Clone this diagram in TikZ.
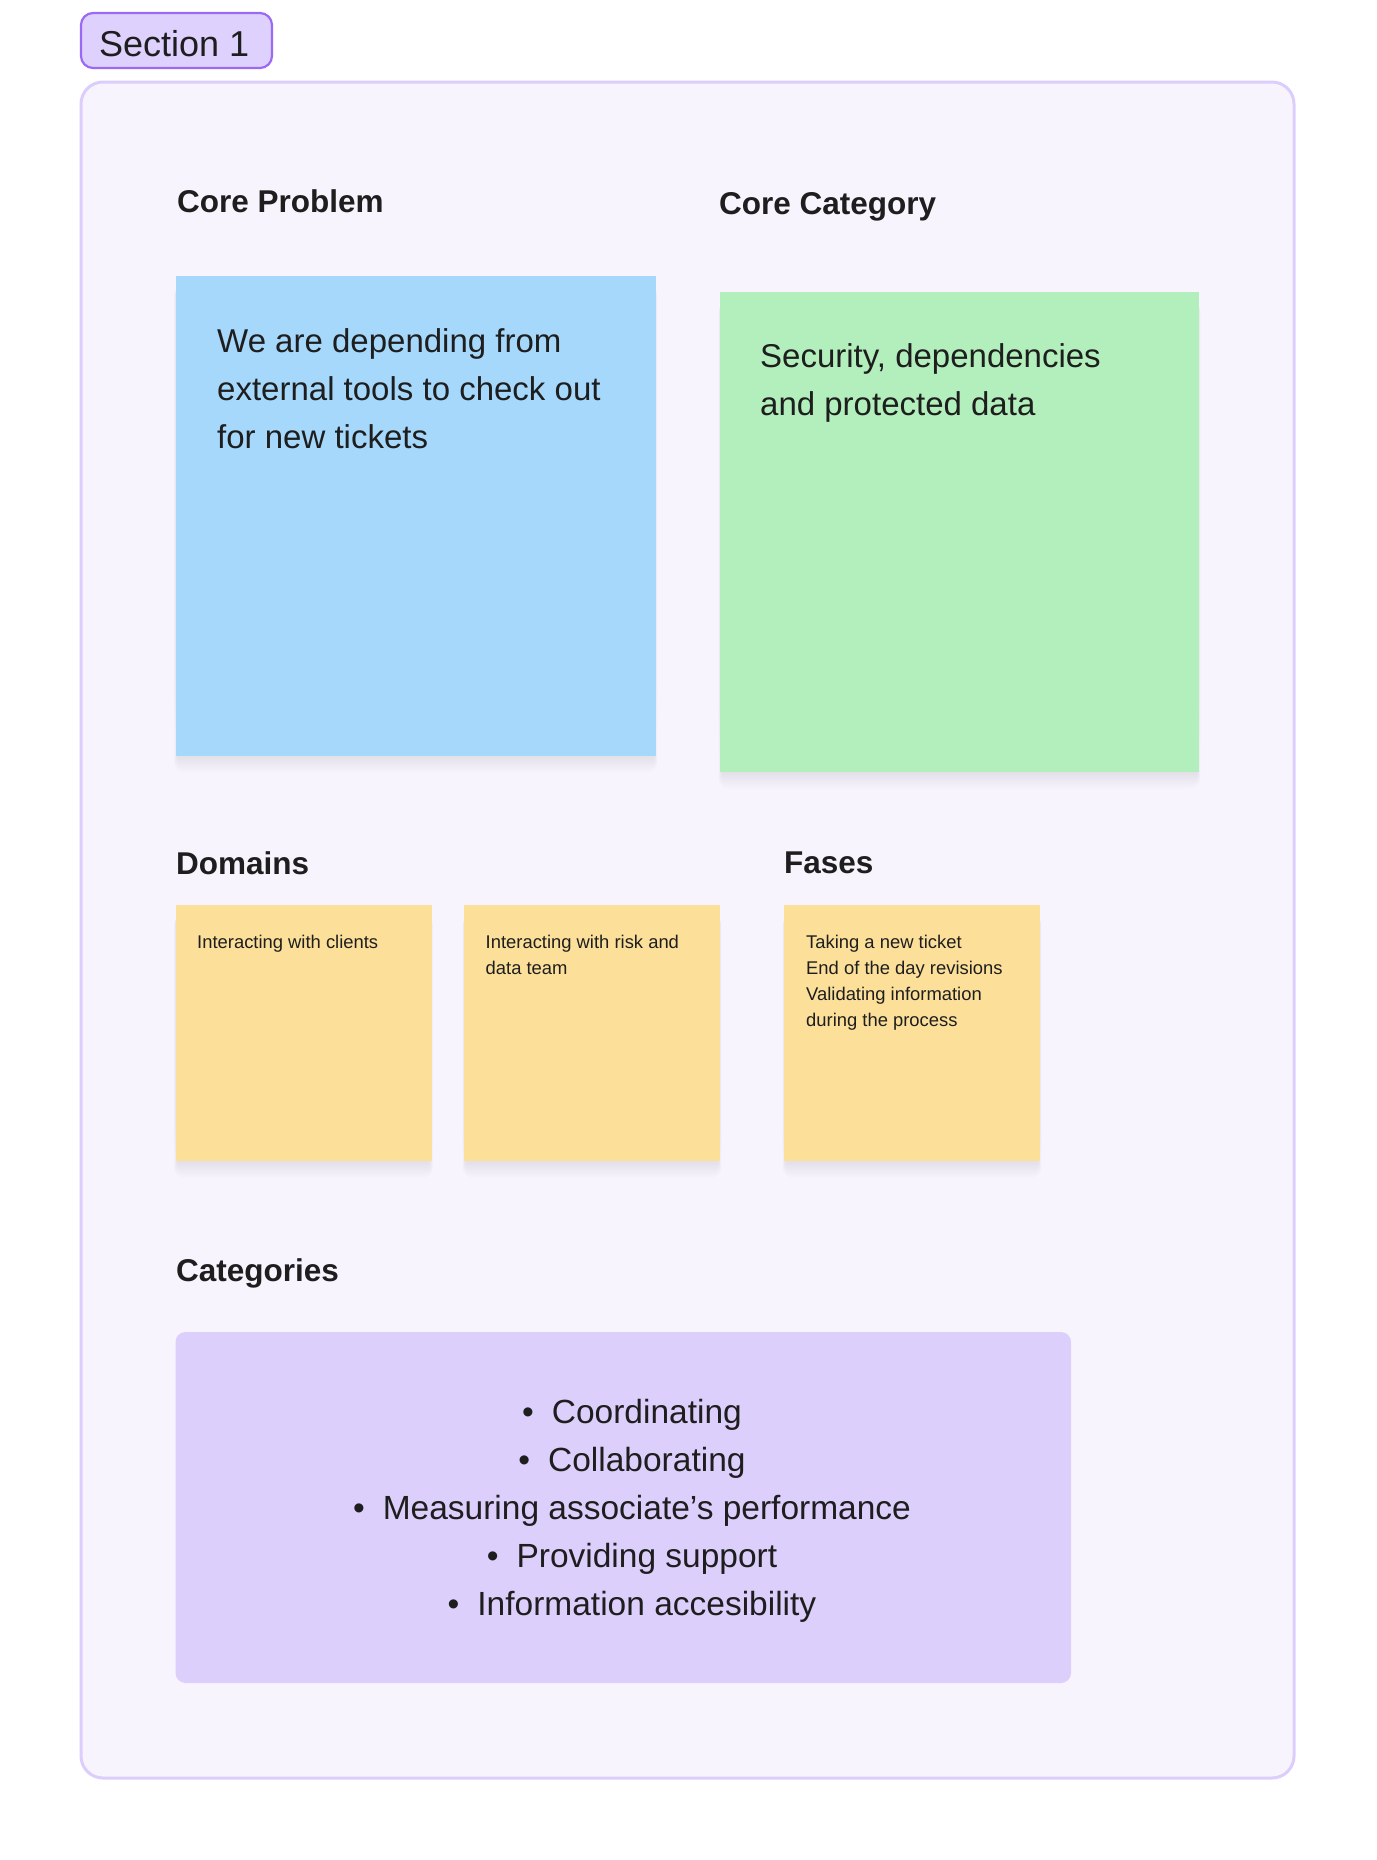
\documentclass[tikz,border=0pt]{standalone}
\usepackage{fontspec}
\setmainfont{Liberation Sans}
\definecolor{framefill}{HTML}{F7F4FE}
\definecolor{frameline}{HTML}{DCCEFC}
\definecolor{tagfill}{HTML}{DED1FE}
\definecolor{tagline}{HTML}{9A6AF6}
\definecolor{bluenote}{HTML}{A6D8FC}
\definecolor{greennote}{HTML}{B3EFBC}
\definecolor{yellownote}{HTML}{FCE09A}
\definecolor{catfill}{HTML}{DDCFFC}
\definecolor{ink}{HTML}{1E1E1E}
\definecolor{shade}{HTML}{3A2E6A}
\newcommand{\mynoteshadow}[4]{%
  \foreach \i in {1,...,10}{%
    \fill[shade, opacity=0.009, rounded corners=\i pt] (#1+2-\i*0.35, #2+8+\i*0.3) rectangle (#3-2+\i*0.35, #4+\i*1.7);
  }%
}
\tikzset{
  heading/.style={anchor=base west, inner sep=0pt, text=ink, font=\fontsize{31.5}{38}\selectfont\bfseries},
  bodytext/.style={anchor=north west, inner sep=0pt, text=ink, align=left, font=\fontsize{33}{48}\selectfont},
  smalltext/.style={anchor=north west, inner sep=0pt, text=ink, align=left, font=\fontsize{18.4}{26}\selectfont},
}
\begin{document}
\begin{tikzpicture}[x=1pt, y=-1pt]
\useasboundingbox[fill=white] (0,0) rectangle (1376,1860);
% frame
\draw[fill=framefill, draw=frameline, line width=3pt, rounded corners=22pt] (81,82) rectangle (1294,1778);
% tag
\draw[fill=tagfill, draw=tagline, line width=2.2pt, rounded corners=12pt] (81,13) rectangle (272,68);
\node[anchor=base west, inner sep=0pt, text=ink, font=\fontsize{36}{42}\selectfont] (tag) at (99,56.5) {Section 1};
% headings
\node[heading] (hcp) at (177,212) {Core Problem};
\node[heading] (hcc) at (719,214) {Core Category};
\node[heading] (hdom) at (176,874) {Domains};
\node[heading] (hfas) at (784,873) {Fases};
\node[heading] (hcat) at (176,1281) {Categories};
% big notes
\mynoteshadow{175.5}{276}{656}{755.5}
\fill[bluenote] (175.5,276) rectangle (656,755.5);
\mynoteshadow{720}{292}{1199}{772}
\fill[greennote] (720,292) rectangle (1199,772);
\node[bodytext] (cptext) at (217,318.4) {\strut We are depending from\\external tools to check out\\for new tickets};
\node[bodytext] (cctext) at (760,333.9) {\strut Security, dependencies\\and protected data};
% yellow notes
\mynoteshadow{175.5}{905}{431.5}{1161}
\fill[yellownote] (175.5,905) rectangle (431.5,1161);
\mynoteshadow{464}{905}{720}{1161}
\fill[yellownote] (464,905) rectangle (720,1161);
\mynoteshadow{784}{905}{1040}{1161}
\fill[yellownote] (784,905) rectangle (1040,1161);
\node[smalltext] (d1) at (197,929.8) {\strut Interacting with clients};
\node[smalltext] (d2) at (485.5,929.8) {\strut Interacting with risk and\\data team};
\node[smalltext] (f1) at (806,929.8) {\strut Taking a new ticket\\End of the day revisions\\Validating information\\during the process};
% categories
\fill[catfill, rounded corners=10pt] (175.5,1332) rectangle (1071,1683);
\node[anchor=north, inner sep=0pt, text=ink, align=center, font=\fontsize{33.5}{48}\selectfont] (cats) at (632,1389.4)
 {\strut\textbullet\hspace{18pt}Coordinating\\
  \textbullet\hspace{18pt}Collaborating\\
  \textbullet\hspace{18pt}Measuring associate’s performance\\
  \textbullet\hspace{18pt}Providing support\\
  \textbullet\hspace{18pt}Information accesibility};
\end{tikzpicture}
\end{document}
